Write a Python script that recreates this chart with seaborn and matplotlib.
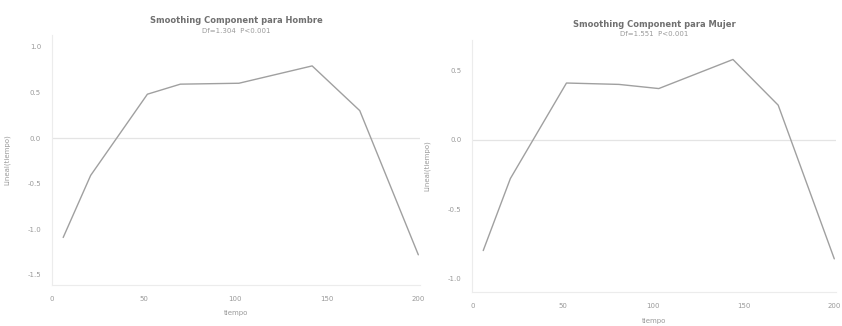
import numpy as np
import pandas as pd
import matplotlib
matplotlib.use("Agg")
import matplotlib.pyplot as plt
import seaborn as sns

# %%--  Data
tiempo_hombre = [6, 21, 52, 70, 102, 142, 168, 200]
smooth_hombre = [-1.09, -0.41, 0.48, 0.59, 0.60, 0.79, 0.30, -1.28]

tiempo_mujer = [6, 21, 52, 81, 103, 144, 169, 200]
smooth_mujer = [-0.80, -0.28, 0.41, 0.40, 0.37, 0.58, 0.25, -0.86]

titles = ["Smoothing Component para Hombre", "Smoothing Component para Mujer"]
subtitles = ["Df=1.304  P<0.001", "Df=1.551  P<0.001"]
yticks_hombre = [-1.5, -1.0, -0.5, 0.0, 0.5, 1.0]
yticks_mujer = [-1.0, -0.5, 0.0, 0.5]
xticks = [0, 50, 100, 150, 200]
# %%-

df_h = pd.DataFrame({"tiempo": tiempo_hombre, "smooth": smooth_hombre})
df_m = pd.DataFrame({"tiempo": tiempo_mujer, "smooth": smooth_mujer})

sns.set_style("white")
plt.rcParams['font.family'] = ['DejaVu Sans']

LINE = "#a0a0a0"
TXT = "#9a9a9a"

fig = plt.figure(figsize=(8.42, 3.26), dpi=100)
ax1 = fig.add_axes([0.062, 0.126, 0.437, 0.767])
ax2 = fig.add_axes([0.561, 0.104, 0.432, 0.773])

panels = [
    (ax1, df_h, yticks_hombre, (-1.61, 1.13), titles[0], subtitles[0], 0.938, 0.905),
    (ax2, df_m, yticks_mujer, (-1.10, 0.72), titles[1], subtitles[1], 0.926, 0.895),
]

for ax, d, yt, ylim, tit, sub, ty, sy in panels:
    sns.lineplot(data=d, x="tiempo", y="smooth", ax=ax, color=LINE, linewidth=1.0)
    ax.axhline(0, color="#e4e4e4", linewidth=0.9, zorder=0)
    ax.set_xlim(0, 201)
    ax.set_ylim(*ylim)
    ax.set_xticks(xticks)
    ax.set_yticks(yt)
    ax.set_xticklabels([str(t) for t in xticks], fontsize=5, color=TXT)
    ax.set_yticklabels(["%.1f" % t for t in yt], fontsize=5, color=TXT)
    ax.tick_params(axis="both", length=0, pad=8)
    ax.set_xlabel("tiempo", fontsize=5, color=TXT, labelpad=6)
    ax.set_ylabel("Lineal(tiempo)", fontsize=5, color=TXT, labelpad=12)
    for s in ["top", "right"]:
        ax.spines[s].set_visible(False)
    for s in ["left", "bottom"]:
        ax.spines[s].set_color("#ececec")
        ax.spines[s].set_linewidth(0.8)
    bb = ax.get_position()
    cx = bb.x0 + bb.width / 2
    fig.text(cx, ty, tit, ha="center", va="center", fontsize=6, fontweight="bold", color="#707070")
    fig.text(cx, sy, sub, ha="center", va="center", fontsize=5, color=TXT)

plt.savefig("out.png", dpi=100)
